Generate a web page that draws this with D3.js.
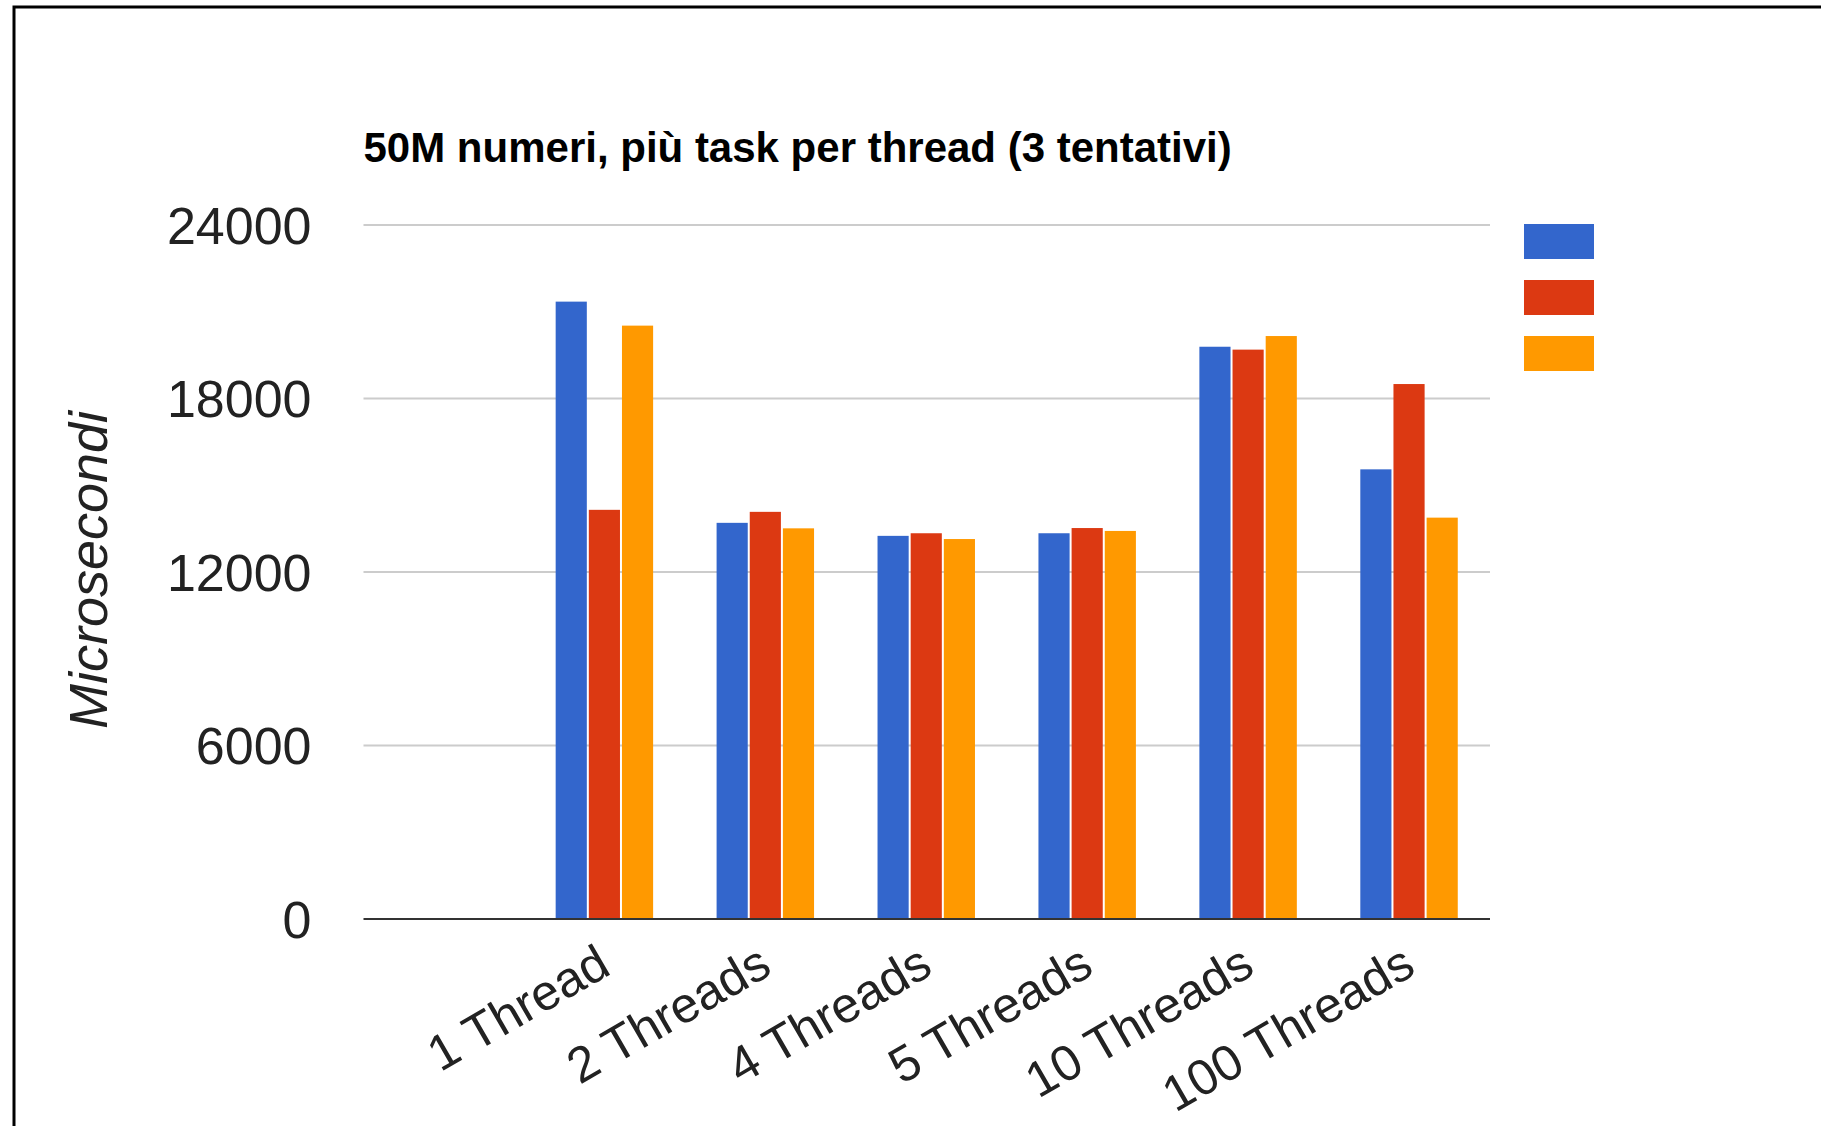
<!DOCTYPE html>
<html>
<head>
<meta charset="utf-8">
<script src="https://cdn.jsdelivr.net/npm/d3@7"></script>
<style>
	body { margin: 0; background: #fff; }
	svg { display: block; font-family: Arial, "Liberation Sans", sans-serif; }
</style>
</head>
<body>
<svg id="chart"></svg>
<script>
// categories (the first slot is empty in the original chart)
var categories = ["", "1 Thread", "2 Threads", "4 Threads", "5 Threads", "10 Threads", "100 Threads"]
// three attempts ("tentativi"), microseconds
var attempt1 = [null, 21350, 13700, 13250, 13340, 19790, 15550]
var attempt2 = [null, 14150, 14080, 13340, 13520, 19690, 18500]
var attempt3 = [null, 20520, 13510, 13140, 13420, 20160, 13880]
var seriesColors = ["#3366cc", "#dc3912", "#ff9900"]
var yTicks = [0, 6000, 12000, 18000, 24000]
var title = "50M numeri, più task per thread (3 tentativi)"
var yTitle = "Microsecondi"

var width = 1821
var height = 1126
var plot = { left: 363.5, right: 1490, top: 225, bottom: 919 }

var svg = d3.select('#chart')
	.attr('width', width)
	.attr('height', height)

svg.append('rect')
	.attr('width', width).attr('height', height)
	.attr('fill', '#fff')

// outer frame of the screenshot
svg.append('rect')
	.attr('x', 14).attr('y', 7)
	.attr('width', width + 40).attr('height', height + 40)
	.attr('fill', 'none')
	.attr('stroke', '#000')
	.attr('stroke-width', 3)

var series = [attempt1, attempt2, attempt3]

var x0 = d3.scaleBand()
	.domain(categories.map(function(d, i) { return i }))
	.range([plot.left, plot.right])
	.paddingInner(0.382)
	.paddingOuter(0.191)

var x1 = d3.scaleBand()
	.domain(d3.range(series.length))
	.range([0, x0.bandwidth()])

var y = d3.scaleLinear()
	.domain([0, 24000])
	.range([plot.bottom, plot.top])

// gridlines
svg.append('g')
	.selectAll('line')
	.data(yTicks.filter(function(d) { return d > 0 }))
	.join('line')
		.attr('x1', plot.left).attr('x2', plot.right)
		.attr('y1', function(d) { return y(d) }).attr('y2', function(d) { return y(d) })
		.attr('stroke', '#cccccc')
		.attr('stroke-width', 2)

// y tick labels
svg.append('g')
	.selectAll('text')
	.data(yTicks)
	.join('text')
		.attr('x', plot.left - 52)
		.attr('y', function(d) { return y(d) })
		.attr('dy', '0.36em')
		.attr('text-anchor', 'end')
		.attr('font-size', 52)
		.attr('fill', '#222')
		.text(function(d) { return d })

// bars
var rows = []
categories.forEach(function(c, i) {
	series.forEach(function(s, j) {
		if (s[i] != null) rows.push({ cat: i, s: j, value: s[i] })
	})
})

svg.append('g')
	.selectAll('rect')
	.data(rows)
	.join('rect')
		.attr('x', function(d) { return x0(d.cat) + x1(d.s) + 0.5 })
		.attr('width', x1.bandwidth() - 2)
		.attr('y', function(d) { return y(d.value) })
		.attr('height', function(d) { return y(0) - y(d.value) })
		.attr('fill', function(d) { return seriesColors[d.s] })

// baseline
svg.append('line')
	.attr('x1', plot.left).attr('x2', plot.right)
	.attr('y1', y(0)).attr('y2', y(0))
	.attr('stroke', '#333')
	.attr('stroke-width', 2)

// x labels, slanted
svg.append('g')
	.selectAll('text')
	.data(categories.map(function(d, i) { return { label: d, i: i } }).filter(function(d) { return d.label !== "" }))
	.join('text')
		.attr('text-anchor', 'end')
		.attr('font-size', 50)
		.attr('fill', '#222')
		.attr('transform', function(d) {
			var cx = x0(d.i) + x0.bandwidth() / 2 + 8
			return 'translate(' + cx + ',' + (plot.bottom + 54) + ') rotate(-30)'
		})
		.text(function(d) { return d.label })

// title
svg.append('text')
	.attr('x', plot.left)
	.attr('y', 162)
	.attr('font-size', 42)
	.attr('font-weight', 'bold')
	.attr('fill', '#000')
	.text(title)

// y axis title
svg.append('text')
	.attr('transform', 'translate(107,570) rotate(-90)')
	.attr('text-anchor', 'middle')
	.attr('font-size', 54)
	.attr('font-style', 'italic')
	.attr('fill', '#222')
	.text(yTitle)

// legend swatches (the series have no names)
svg.append('g')
	.selectAll('rect')
	.data(seriesColors)
	.join('rect')
		.attr('x', 1524)
		.attr('y', function(d, i) { return 224 + i * 56 })
		.attr('width', 70)
		.attr('height', 35)
		.attr('fill', function(d) { return d })
</script>
</body>
</html>
